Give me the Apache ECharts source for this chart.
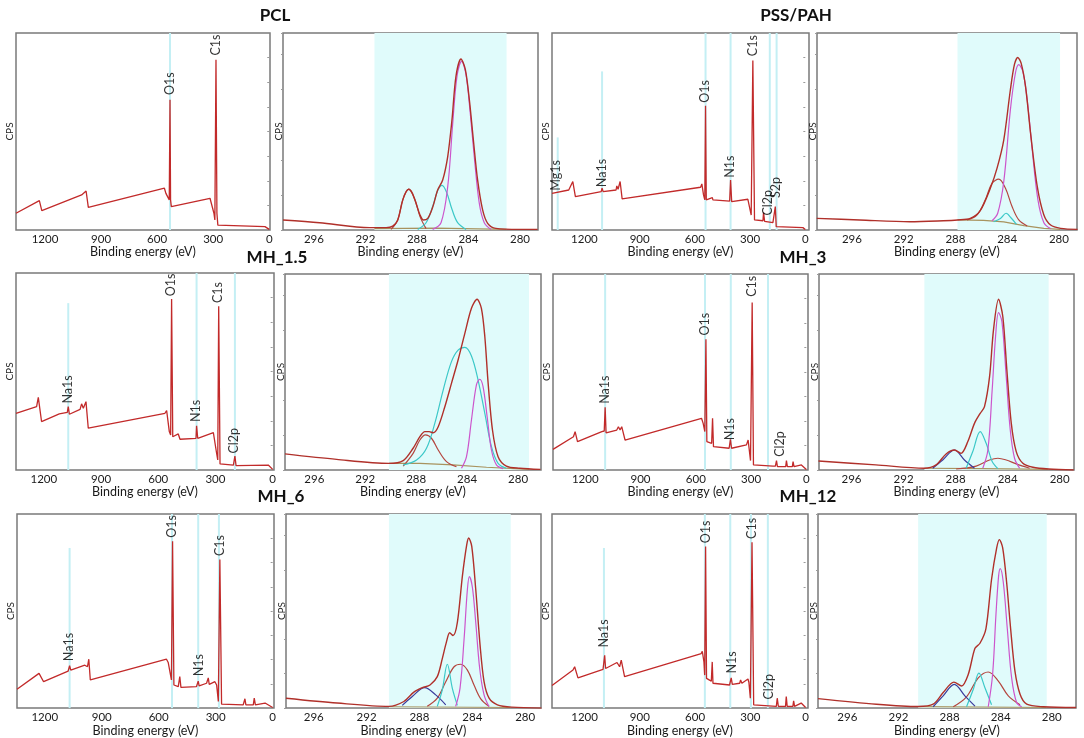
<!DOCTYPE html>
<html><head><meta charset="utf-8">
<script src="https://cdn.jsdelivr.net/npm/echarts@6/dist/echarts.min.js"></script>
<style>html,body{margin:0;padding:0;background:#fff}#c{width:1084px;height:738px}</style>
</head><body><div id="c"></div><script>
// ---------- tick labels & titles ----------
const surveyTicks = [0, 300, 600, 900, 1200];
const hrTicks = [280, 284, 288, 292, 296];
const titles = ['PCL', 'PSS/PAH', 'MH_1.5', 'MH_3', 'MH_6', 'MH_12'];
const xName = 'Binding energy (eV)';
const yName = 'CPS';

// ---------- survey spectra [eV, relative CPS] ----------
const pclSurvey = [[1355,8.5],[1230,14.9],[1217,9.8],[1004,17.8],[995,16.9],[980,19.8],[968,11.5],[561,21.2],[553,18.6],[535,15.3],[531,66.1],[528,15.3],[524,11.9],[317,16.1],[308,16.6],[296,8.5],[291,5.1],[285,86.4],[280,8.5],[275,2.5],[23,1.7],[14,2.0],[0,0.3]];
const pclPeaks = [['O1s',531,67.8],['C1s',285,87.8]];
const pclLines = [[531,100]];

const pssSurvey = [[1376,18.6],[1285,20.3],[1263,24.6],[1249,16.9],[1109,19.5],[1104,21.2],[1098,19.5],[1028,20.3],[1024,22.4],[1017,20.7],[1006,24.6],[995,15.8],[569,21.7],[562,23.4],[553,17.8],[546,15.3],[542,63.1],[538,15.3],[505,16.4],[502,15.3],[411,14.7],[406,25.4],[400,14.4],[312,15.6],[306,16.6],[294,7.6],[285,86.1],[276,5.1],[230,4.7],[227,8.8],[221,4.4],[176,3.7],[167,3.7],[163,11.9],[158,1.7],[13,1.2],[0,0.3]];
const pssPeaks = [['Mg1s',1350,19.2],['Na1s',1100,21.0],['O1s',542,63.8],['N1s',404,25.8],['C1s',282,87.5],['Cl2p',198,6.6],['S2p',154,15.5]];
const pssLines = [[1345,47],[1104,80.5],[542,100],[406,100],[193,100],[156,100]];

const mh15Survey = [[1346,28.8],[1238,32.2],[1229,36.9],[1212,24.6],[1119,28.5],[1077,29.3],[1072,32.2],[1066,28.3],[1010,30.8],[1002,33.6],[993,31.4],[979,34.7],[967,21.2],[565,28.8],[556,30.2],[542,19.5],[535,17.8],[530,86.8],[524,16.9],[495,18.3],[486,15.6],[402,16.1],[399,22.4],[393,16.1],[311,19.0],[308,19.5],[294,8.5],[288,5.1],[283,83.1],[276,3.1],[206,2.5],[198,7.1],[192,2.2],[23,2.5],[0,0.3]];
const mh15Peaks = [['Na1s',1072,33.0],['O1s',530,87.4],['N1s',398,23.6],['C1s',282,84.0],['Cl2p',198,7.6]];
const mh15Lines = [[1072,84.7],[399,100],[198,100]];

const mh3Survey = [[1375,10.5],[1264,17.0],[1255,19.6],[1242,14.5],[1110,19.6],[1097,19.9],[1092,32.0],[1087,19.0],[1029,20.4],[1020,22.1],[1011,20.4],[1002,22.1],[984,15.3],[569,26.4],[560,23.8],[551,19.6],[545,66.7],[540,14.5],[514,13.6],[509,26.4],[504,11.9],[419,11.1],[412,15.6],[406,11.1],[325,12.8],[316,15.3],[303,4.8],[294,85.4],[287,2.6],[181,2.0],[168,2.0],[162,4.8],[157,1.7],[112,1.7],[108,4.8],[103,1.7],[76,1.7],[72,4.3],[67,1.7],[27,2.6],[0,0.3]];
const mh3Peaks = [['Na1s',1092,33.0],['O1s',545,67.8],['N1s',410,14.4],['C1s',291,87.6],['Cl2p',141,6.0]];
const mh3Lines = [[1092,100],[550,100],[410,100],[208,100]];

const mh6Survey = [[1346,9.7],[1230,17.9],[1223,18.7],[1206,13.6],[1077,19.0],[1069,21.8],[1063,19.6],[989,22.1],[981,23.0],[975,21.3],[968,25.2],[960,14.5],[559,25.2],[550,23.5],[541,23.0],[533,14.5],[527,85.9],[520,11.9],[497,11.1],[489,16.2],[483,10.7],[401,11.1],[392,13.9],[387,11.4],[348,12.8],[339,15.6],[334,12.2],[304,13.6],[295,11.9],[286,3.4],[278,76.5],[269,2.0],[155,1.7],[146,4.8],[141,1.7],[102,1.7],[97,5.1],[91,1.7],[40,2.6],[0,0.3]];
const mh6Peaks = [['Na1s',1070,23.4],['O1s',525,87.0],['N1s',388,15.6],['C1s',276,77.6]];
const mh6Lines = [[1069,82.5],[530,100],[392,100],[283,100]];

const mh12Survey = [[1377,11.6],[1263,19.6],[1254,21.3],[1236,15.6],[1100,19.9],[1095,20.4],[1091,27.2],[1086,20.4],[1024,23.5],[1019,24.1],[1010,21.3],[1001,24.7],[983,16.2],[567,28.1],[561,29.3],[552,23.8],[548,17.0],[543,83.3],[538,15.3],[530,14.5],[512,13.9],[507,23.8],[503,12.8],[413,11.9],[404,15.6],[398,12.2],[358,12.8],[353,14.5],[346,12.8],[313,15.0],[308,13.3],[300,5.1],[291,85.4],[282,1.7],[159,0.9],[154,5.1],[148,0.9],[109,0.9],[105,6.0],[100,0.9],[69,0.9],[65,3.7],[60,0.9],[24,2.6],[0,0.3]];
const mh12Peaks = [['Na1s',1094,30.4],['O1s',540,84.2],['N1s',398,17.0],['C1s',291,86.4],['Cl2p',195,3.6]];
const mh12Lines = [[1095,82.5],[547,100],[409,100],[297,100],[205,100]];

// ---------- C1s high-resolution spectra [eV, relative CPS] ----------
const pclHrSpec = [[298.40,5.1],[295.56,3.7],[291.68,1.2],[290.39,1.2],[289.88,2.0],[289.49,5.1],[289.10,15.3],[288.84,19.5],[288.64,20.7],[288.38,19.0],[288.07,13.6],[287.76,7.6],[287.50,5.1],[287.16,5.9],[286.78,11.5],[286.39,20.3],[286.00,25.4],[285.61,37.3],[285.28,55.9],[284.97,78.0],[284.58,86.8],[284.24,81.4],[283.93,66.1],[283.62,45.8],[283.29,25.4],[282.90,10.2],[282.51,3.4],[281.87,0.8],[280.06,0.3],[278.64,0.3]];
const pclHrCC = [[286.78,0.3],[286.13,3.7],[285.61,22.0],[285.22,54.2],[284.89,78.0],[284.53,85.6],[284.19,78.8],[283.86,59.3],[283.55,37.3],[283.16,13.6],[282.77,3.7],[282.25,0.3]];
const pclHrCO = [[287.94,0.3],[287.29,3.7],[286.78,11.9],[286.39,20.0],[286.05,22.7],[285.69,19.0],[285.28,10.5],[284.84,3.7],[284.19,0.3]];
const pclHrOCO = [[290.01,0.3],[289.49,5.1],[289.10,15.3],[288.64,20.7],[288.17,15.6],[287.76,6.8],[287.29,0.7]];
const pclHrBg = [[291.30,0.7],[286.52,1.0],[281.04,0.3]];
const pclHrBand = [281.04, 291.30];

const pssHrSpec = [[298.72,5.9],[295.40,5.1],[291.52,4.2],[288.93,4.7],[287.84,5.1],[286.85,5.9],[286.08,9.8],[285.30,21.2],[284.78,31.4],[284.26,45.8],[283.75,71.2],[283.44,83.9],[283.18,87.6],[282.92,84.7],[282.58,72.9],[282.19,49.2],[281.67,22.0],[281.16,7.6],[280.64,2.5],[279.86,0.8],[278.56,0.3]];
const pssHrCC = [[285.17,4.7],[284.73,8.5],[284.26,24.6],[283.75,61.0],[283.36,79.7],[283.10,83.9],[282.79,80.5],[282.45,66.1],[282.06,40.7],[281.62,15.3],[281.16,3.7],[280.64,0.7]];
const pssHrCN = [[287.11,5.1],[286.34,7.6],[285.69,15.3],[285.17,23.7],[284.65,25.8],[284.13,21.2],[283.62,11.9],[283.10,5.1],[282.45,2.0]];
const pssHrCO = [[285.04,4.2],[284.52,5.8],[284.08,8.5],[283.69,6.1],[283.28,2.9]];
const pssHrBg = [[287.84,5.1],[285.82,4.9],[284.26,4.1],[282.71,2.2],[281.16,0.8],[279.91,0.3]];
const pssHrBand = [279.91, 287.84];

const mh15HrSpec = [[298.30,8.2],[294.25,5.4],[290.14,3.4],[289.02,4.8],[288.24,11.1],[287.71,17.0],[287.32,19.6],[286.98,19.6],[286.67,19.0],[286.27,22.1],[285.75,32.3],[285.23,44.2],[284.71,56.1],[284.18,69.7],[283.66,82.5],[283.22,87.1],[282.88,82.5],[282.61,68.0],[282.35,44.2],[282.01,20.4],[281.57,6.8],[280.92,2.0],[279.87,0.9],[278.25,0.3]];
const mh15HrCO = [[289.02,2.6],[287.97,5.1],[287.19,11.1],[286.54,23.8],[285.88,40.8],[285.23,55.3],[284.71,61.2],[284.18,62.6],[283.66,58.2],[283.14,45.9],[282.61,28.9],[282.09,11.9],[281.57,3.4],[280.92,0.9]];
const mh15HrCC = [[284.44,0.9],[284.05,6.8],[283.66,25.5],[283.27,43.4],[283.01,46.3],[282.75,42.5],[282.43,27.2],[282.09,10.2],[281.70,2.6],[281.18,0.7]];
const mh15HrOCO = [[289.02,2.0],[288.24,8.5],[287.71,15.3],[287.27,17.9],[286.80,16.2],[286.27,10.2],[285.62,4.3],[284.84,1.7]];
const mh15HrBg = [[290.14,3.4],[287.71,3.4],[285.10,2.6],[282.48,1.4],[279.14,0.3]];
const mh15HrBand = [279.14, 290.14];

const mh3HrSpec = [[298.54,4.6],[294.13,2.6],[290.40,0.9],[289.50,2.6],[288.73,8.2],[288.09,10.2],[287.58,8.5],[287.06,14.5],[286.55,23.8],[286.11,28.9],[285.78,32.3],[285.39,47.6],[285.09,71.4],[284.70,87.1],[284.37,78.2],[284.06,51.0],[283.72,23.8],[283.34,9.4],[282.83,3.4],[282.06,1.4],[280.85,0.5],[278.92,0.0]];
const mh3HrCC = [[285.91,0.9],[285.52,10.2],[285.19,40.8],[284.93,68.0],[284.70,80.3],[284.44,75.7],[284.11,47.6],[283.80,20.4],[283.47,6.0],[283.08,0.9]];
const mh3HrCO = [[287.19,0.9],[286.68,9.4],[286.11,19.6],[285.65,13.6],[285.19,4.3],[284.75,0.7]];
const mh3HrOCO = [[289.76,0.9],[288.99,5.1],[288.09,10.2],[287.32,5.1],[286.55,0.9]];
const mh3HrCN = [[287.96,0.5],[286.42,2.0],[285.39,5.1],[284.75,6.0],[284.11,5.1],[283.34,3.1],[282.31,0.9]];
const mh3HrBg = [[290.40,0.9],[285.91,0.7],[280.85,0.3]];
const mh3HrBand = [280.85, 290.40];

const mh6HrSpec = [[298.10,5.1],[294.23,2.6],[290.31,0.9],[289.18,3.4],[288.42,8.2],[287.78,10.5],[287.20,11.9],[286.65,16.2],[286.27,25.5],[285.96,34.0],[285.71,38.8],[285.46,37.4],[285.13,44.2],[284.75,68.0],[284.42,84.2],[284.27,87.6],[284.04,83.3],[283.74,61.2],[283.41,32.3],[283.11,13.6],[282.73,5.1],[282.10,1.7],[281.01,0.5],[278.76,0.0]];
const mh6HrCC = [[285.26,0.9],[284.93,10.2],[284.62,35.7],[284.37,61.2],[284.22,67.7],[283.99,62.1],[283.74,44.2],[283.44,20.4],[283.11,6.8],[282.73,0.7]];
const mh6HrCO = [[286.65,0.9],[286.27,9.4],[285.89,22.6],[285.51,10.2],[285.13,1.4]];
const mh6HrCN = [[287.41,0.9],[286.65,5.1],[286.01,13.6],[285.38,21.3],[284.88,22.6],[284.37,19.6],[283.87,11.9],[283.36,4.8],[282.73,0.9]];
const mh6HrOCO = [[289.30,1.4],[288.54,6.0],[287.61,10.5],[286.77,6.8],[286.01,1.7]];
const mh6HrBg = [[290.31,0.7],[281.09,0.3]];
const mh6HrBand = [281.09, 290.31];

const mh12HrSpec = [[298.30,4.9],[293.73,2.0],[290.46,0.8],[289.28,2.0],[288.50,8.0],[287.66,13.4],[287.06,11.4],[286.54,17.3],[286.01,30.8],[285.62,33.4],[285.15,41.0],[284.71,66.4],[284.31,82.5],[284.10,86.8],[283.84,82.5],[283.53,64.7],[283.22,41.0],[282.88,19.0],[282.48,7.1],[281.96,2.0],[280.65,0.7],[278.09,0.3]];
const mh12HrCC = [[284.97,0.7],[284.63,17.3],[284.37,47.8],[284.16,68.1],[284.03,71.9],[283.79,64.7],[283.48,41.0],[283.14,15.6],[282.75,2.9],[282.35,0.7]];
const mh12HrCO = [[286.67,0.7],[286.14,9.7],[285.70,18.0],[285.23,10.5],[284.71,1.7]];
const mh12HrCN = [[287.71,0.7],[286.67,5.8],[285.75,15.6],[284.97,18.6],[284.18,13.9],[283.40,6.3],[282.48,1.7]];
const mh12HrOCO = [[289.28,0.7],[288.50,6.3],[287.63,12.2],[286.80,6.3],[286.01,1.0]];
const mh12HrBg = [[290.46,0.8],[280.39,0.3]];
const mh12HrBand = [280.39, 290.46];

// ---------- layout & styling ----------
const FONT = 'Lato, "Open Sans", sans-serif';
const C_MAG = '#cc55cc', C_CYAN = '#3cc8c8', C_RED = '#b4463f', C_BLUE = '#3b3b9c', C_BG = '#a8935e';

const panels = [
  {kind:'s', g:[16,33,254,197],  r:[-4,1355],  data:pclSurvey,  peaks:pclPeaks,  lines:pclLines,  ng:8},
  {kind:'h', g:[283,33,255,197], r:[278.6,298.4], spec:pclHrSpec, comps:[[pclHrOCO,C_RED],[pclHrCO,C_CYAN],[pclHrCC,C_MAG]], bg:pclHrBg, band:pclHrBand, ng:8},
  {kind:'s', g:[552,33,257,197], r:[-20,1376], data:pssSurvey,  peaks:pssPeaks,  lines:pssLines,  ng:8},
  {kind:'h', g:[817,33,260,197], r:[278.6,298.7], spec:pssHrSpec, comps:[[pssHrCN,C_RED],[pssHrCO,C_CYAN],[pssHrCC,C_MAG]], bg:pssHrBg, band:pssHrBand, ng:8},
  {kind:'s', g:[16,273,258,197], r:[-7,1346],  data:mh15Survey, peaks:mh15Peaks, lines:mh15Lines, ng:10},
  {kind:'h', g:[285,274,256,196], r:[278.2,298.3], spec:mh15HrSpec, comps:[[mh15HrOCO,C_RED],[mh15HrCO,C_CYAN],[mh15HrCC,C_MAG]], bg:mh15HrBg, band:mh15HrBand, ng:10},
  {kind:'s', g:[553,274,255,196], r:[-9,1375], data:mh3Survey,  peaks:mh3Peaks,  lines:mh3Lines,  ng:10},
  {kind:'h', g:[819,274,255,196], r:[278.9,298.5], spec:mh3HrSpec, comps:[[mh3HrCN,C_RED],[mh3HrOCO,C_BLUE],[mh3HrCO,C_CYAN],[mh3HrCC,C_MAG]], bg:mh3HrBg, band:mh3HrBand, ng:10},
  {kind:'s', g:[17,514,257,196], r:[-7,1346],  data:mh6Survey,  peaks:mh6Peaks,  lines:mh6Lines,  ng:8},
  {kind:'h', g:[286,514,255,196], r:[278.8,298.1], spec:mh6HrSpec, comps:[[mh6HrCN,C_RED],[mh6HrOCO,C_BLUE],[mh6HrCO,C_CYAN],[mh6HrCC,C_MAG]], bg:mh6HrBg, band:mh6HrBand, ng:8},
  {kind:'s', g:[552,514,256,196], r:[-13,1377], data:mh12Survey, peaks:mh12Peaks, lines:mh12Lines, ng:8},
  {kind:'h', g:[818,514,258,197], r:[278.1,298.3], spec:mh12HrSpec, comps:[[mh12HrCN,C_RED],[mh12HrOCO,C_BLUE],[mh12HrCO,C_CYAN],[mh12HrCC,C_MAG]], bg:mh12HrBg, band:mh12HrBand, ng:8}
];
const titlePos = [[275,16],[796,16],[277,258],[803,258],[281,497],[808,497]];

const grid = [], xAxis = [], yAxis = [], series = [];
panels.forEach((p, i) => {
  const surv = p.kind === 's';
  grid.push({left:p.g[0], top:p.g[1], width:p.g[2], height:p.g[3], show:true,
    borderColor:'#7a7a7a', borderWidth:1.5, backgroundColor:'rgba(0,0,0,0)'});
  xAxis.push({gridIndex:i, type:'value', inverse:true, min:p.r[0], max:p.r[1],
    axisLine:{show:false}, splitLine:{show:false}, axisTick:{show:false},
    axisLabel:{customValues: surv ? surveyTicks : hrTicks, formatter: v => String(v),
      fontSize:11.5, color:'#1a1a1a', margin:3, fontFamily:FONT},
    name:xName, nameLocation:'middle', nameGap:p.ng,
    nameTextStyle:{fontSize:12.5, color:'#1a1a1a', fontFamily:FONT}});
  yAxis.push({gridIndex:i, type:'value', min:0, max:100, interval: surv ? 12.5 : 17.8,
    axisLine:{show:false}, splitLine:{show:false}, axisLabel:{show:false},
    axisTick:{show:true, length:2, lineStyle:{color:'#9a9a9a'}},
    name:yName, nameLocation:'middle', nameGap: surv ? 1 : -1,
    nameTextStyle:{fontSize:10, color:'#222', fontFamily:FONT}});
  const base = {xAxisIndex:i, yAxisIndex:i, type:'line', symbol:'none', silent:true, animation:false};
  if (surv) {
    p.lines.forEach(l => series.push(Object.assign({}, base, {z:1,
      data:[[l[0],0],[l[0],l[1]]], lineStyle:{color:'#c4eff4', width:2}})));
    series.push(Object.assign({}, base, {data:p.data, z:3, lineStyle:{color:'#c22a2a', width:1.3}}));
    series.push({type:'scatter', xAxisIndex:i, yAxisIndex:i, silent:true, animation:false, z:5,
      symbolSize:1, itemStyle:{color:'rgba(0,0,0,0)'},
      data:p.peaks.map(k => ({name:k[0], value:[k[1], k[2]]})),
      label:{show:true, formatter:'{b}', rotate:90, position:[0,-1], align:'left', verticalAlign:'middle',
        fontSize:12.5, color:'#000', fontFamily:FONT}});
  } else {
    series.push(Object.assign({}, base, {data:p.spec, z:1, lineStyle:{width:0, opacity:0},
      markArea:{silent:true, animation:false, itemStyle:{color:'#e0fbfb'},
        data:[[{xAxis:p.band[0]},{xAxis:p.band[1]}]]}}));
    series.push(Object.assign({}, base, {data:p.bg, z:2, lineStyle:{color:C_BG, width:1.2}}));
    p.comps.forEach(c => series.push(Object.assign({}, base, {data:c[0], z:3, smooth:0.35,
      lineStyle:{color:c[1], width:1.2}})));
    series.push(Object.assign({}, base, {data:p.spec, z:4, smooth:0.3, lineStyle:{color:'#b0302a', width:1.4}}));
  }
});

const graphic = titles.map((t, i) => ({type:'text', x:titlePos[i][0], y:titlePos[i][1], silent:true,
  style:{text:t, fill:'#111', fontSize:17, fontWeight:'bold', fontFamily:FONT, align:'center', verticalAlign:'middle'}}));

const chart = echarts.init(document.getElementById('c'), null, {renderer:'canvas'});
chart.setOption({animation:false, backgroundColor:'#fff', grid, xAxis, yAxis, series, graphic});
</script></body></html>
